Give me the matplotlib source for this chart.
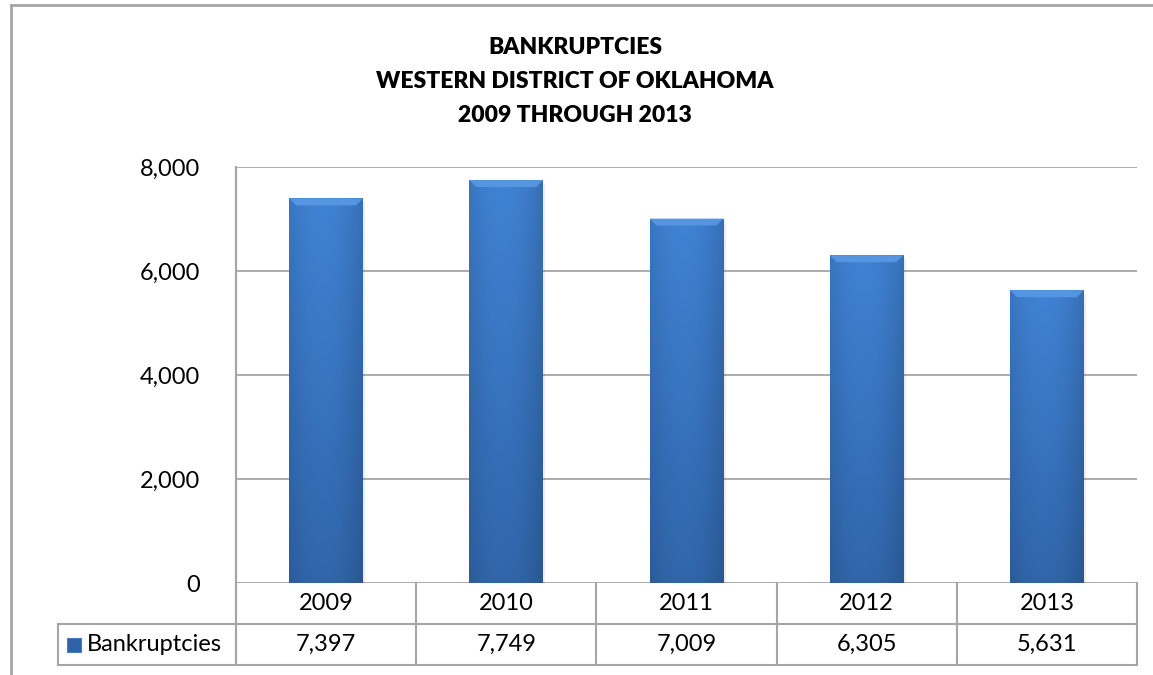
import numpy as np
import matplotlib
matplotlib.use('Agg')
import matplotlib.pyplot as plt
from matplotlib.patches import Rectangle, Polygon
from matplotlib.lines import Line2D
import matplotlib.transforms as mtransforms

years = ['2009', '2010', '2011', '2012', '2013']
bankruptcies = [7397, 7749, 7009, 6305, 5631]
series_name = 'Bankruptcies'
title_lines = ['BANKRUPTCIES', 'WESTERN DISTRICT OF OKLAHOMA', '2009 THROUGH 2013']
y_ticks = [0, 2000, 4000, 6000, 8000]

plt.rcParams['font.family'] = ['Lato', 'DejaVu Sans']

W, H = 1153, 675
fig = plt.figure(figsize=(W / 100, H / 100), dpi=100)
fig.patch.set_facecolor('white')


def fx(px):
    return px / W


def fy(py):
    return 1 - py / H


grey = '#A6A6A6'

# outer chart frame (cut off at right/bottom like the screenshot)
fig.add_artist(Line2D([fx(11), fx(11)], [fy(5), fy(H + 5)], color=grey, lw=2))
fig.add_artist(Line2D([fx(11), fx(W + 5)], [fy(5), fy(5)], color=grey, lw=2))

# title
for i, line in enumerate(title_lines):
    fig.text(fx(575), fy(47 + 34 * i), line, ha='center', va='center',
             fontsize=16.5, fontweight='heavy', color='black')

# plot area
x0, x1, ytop, ybot = 236, 1137, 167, 583
ax = fig.add_axes([fx(x0), fy(ybot), fx(x1 - x0), (ybot - ytop) / H])
ax.set_xlim(-0.5, len(years) - 0.5)
ax.set_ylim(0, 8000)
ax.set_yticks(y_ticks)
ax.set_yticklabels([f'{v:,}' for v in y_ticks], fontsize=17)
ax.tick_params(axis='y', length=0, pad=26)
ax.set_xticks([])
for s in ['top', 'right', 'bottom']:
    ax.spines[s].set_visible(False)
ax.spines['left'].set_color(grey)
ax.spines['left'].set_linewidth(1.5)
ax.yaxis.grid(True, color=grey, lw=1.3)
ax.set_axisbelow(True)

# bars with a soft gradient and bevelled top
bars = ax.bar(range(len(years)), bankruptcies, width=0.41, color='#3A74C0',
              zorder=2, edgecolor='none')
hgrad = np.linspace(0, 1, 64)
hprof = 1 - 0.12 * (np.abs(hgrad - 0.45) * 2) ** 2
c_top = np.array([0.25, 0.51, 0.83])
c_bot = np.array([0.19, 0.40, 0.67])
bev_x = 7 / 180.0
bev_y = 7 / 52.0 * 1000
for b in bars:
    bx, bw, bh = b.get_x(), b.get_width(), b.get_height()
    vgrad = np.linspace(1, 0, 64)[:, None, None]
    img = c_bot + (c_top - c_bot) * vgrad
    img = img * hprof[None, :, None]
    im = ax.imshow(np.clip(img, 0, 1), extent=(bx, bx + bw, 0, bh), aspect='auto',
                   zorder=3, interpolation='bilinear')
    im.set_clip_path(b)
    bevel = Polygon([(bx, bh), (bx + bw, bh), (bx + bw - bev_x, bh - bev_y),
                     (bx + bev_x, bh - bev_y)], closed=True,
                    facecolor='#5B9AE4', edgecolor='none', zorder=4, alpha=0.85)
    ax.add_patch(bevel)
    ax.add_patch(Rectangle((bx + bw, 0), 0.012, bh - bev_y * 0.5, facecolor='#000000',
                           alpha=0.07, edgecolor='none', zorder=1))
ax.set_xlim(-0.5, len(years) - 0.5)
ax.set_ylim(0, 8000)

# data table under the plot
tr = mtransforms.blended_transform_factory(ax.transData, fig.transFigure)
row1, row2, row3 = 583, 624, 665
for k in range(len(years) + 1):
    fig.add_artist(Line2D([k - 0.5, k - 0.5], [fy(row1), fy(row3)], transform=tr,
                          color=grey, lw=1.5))
fig.add_artist(Line2D([fx(58), fx(x1)], [fy(row2), fy(row2)], color=grey, lw=1.5))
fig.add_artist(Line2D([fx(58), fx(x1)], [fy(row3), fy(row3)], color=grey, lw=1.5))
fig.add_artist(Line2D([fx(58), fx(58)], [fy(row2), fy(row3)], color=grey, lw=1.5))
fig.add_artist(Line2D([fx(x0), fx(x0)], [fy(ytop), fy(row3)], color=grey, lw=1.5))

for i, (yr, v) in enumerate(zip(years, bankruptcies)):
    fig.text(i, fy((row1 + row2) / 2), yr, transform=tr, ha='center', va='center',
             fontsize=17)
    fig.text(i, fy((row2 + row3) / 2), f'{v:,}', transform=tr, ha='center',
             va='center', fontsize=17)

fig.add_artist(Rectangle((fx(67), fy(652)), fx(14), 14 / H, facecolor='#2F62A6',
                         edgecolor='#4A7CC0', lw=0.8))
fig.text(fx(87), fy((row2 + row3) / 2), series_name, ha='left', va='center',
         fontsize=17)

fig.savefig('out.png', dpi=100)
